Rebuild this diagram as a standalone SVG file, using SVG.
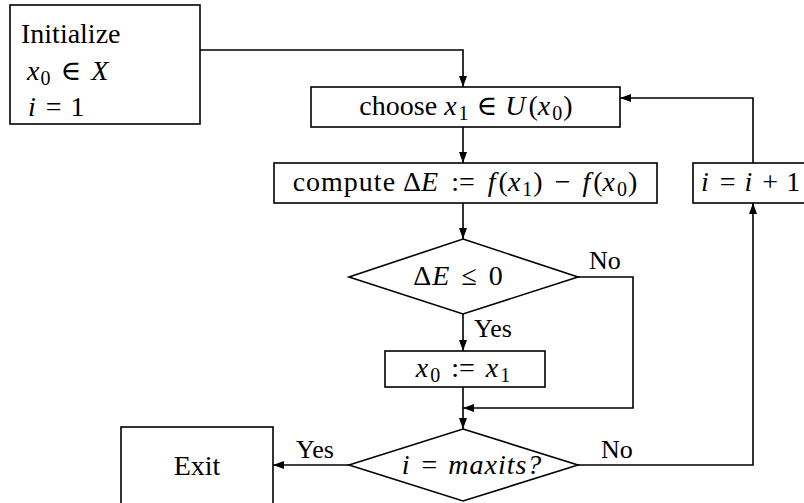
<svg xmlns="http://www.w3.org/2000/svg" width="804" height="503" viewBox="0 0 804 503">
<style>
.box{fill:#fff;stroke:#000;stroke-width:1.6}
.ln{fill:none;stroke:#000;stroke-width:1.6}
text{font-family:"Liberation Serif","DejaVu Serif",serif;font-size:28px;fill:#000}
.lbl{font-size:26px}
.m{font-style:italic}
.s{font-size:20px}
</style>
<defs>
<marker id="ah" markerUnits="userSpaceOnUse" markerWidth="12" markerHeight="10" refX="11" refY="4" orient="auto">
<path d="M0,0 L11,4 L0,8 Z" fill="#000"/>
</marker>
</defs>
<rect width="804" height="503" fill="#fff"/>
<g id="connectors">
<path class="ln" d="M200,50 H463 V87" marker-end="url(#ah)"/>
<path class="ln" d="M463,127 V163" marker-end="url(#ah)"/>
<path class="ln" d="M463,203 V239" marker-end="url(#ah)"/>
<path class="ln" d="M463,314 V351" marker-end="url(#ah)"/>
<path class="ln" d="M463,387 V429" marker-end="url(#ah)"/>
<path class="ln" d="M578,277 H633 V408 H463" marker-end="url(#ah)"/>
<path class="ln" d="M349,465 H273" marker-end="url(#ah)"/>
<path class="ln" d="M578,465 H753 V203" marker-end="url(#ah)"/>
<path class="ln" d="M753,163 V98 H620" marker-end="url(#ah)"/>
<text class="lbl" x="589" y="269">No</text>
<text class="lbl" x="474" y="337">Yes</text>
<text class="lbl" x="296" y="458">Yes</text>
<text class="lbl" x="601" y="458">No</text>
</g>
<g id="init">
<rect class="box" x="10" y="5" width="190" height="119"/>
<text x="21" y="43">Initialize</text>
<text x="27" y="80"><tspan class="m">x</tspan><tspan class="s" dy="5" dx="1">0</tspan><tspan dy="-5" dx="10">∈</tspan><tspan class="m" dx="10">X</tspan></text>
<text x="28" y="116"><tspan class="m">i</tspan><tspan dx="10">=</tspan><tspan dx="9">1</tspan></text>
</g>
<g id="choose">
<rect class="box" x="311" y="87" width="309" height="40"/>
<text x="466" y="115" text-anchor="middle">choose <tspan class="m">x</tspan><tspan class="s" dy="5" dx="2">1</tspan><tspan dy="-5" dx="8">∈</tspan><tspan class="m" dx="8">U</tspan><tspan dx="3">(</tspan><tspan class="m">x</tspan><tspan class="s" dy="5" dx="2">0</tspan><tspan dy="-5" dx="1">)</tspan></text>
</g>
<g id="compute">
<rect class="box" x="274" y="163" width="383" height="40"/>
<text x="465" y="191" text-anchor="middle"><tspan letter-spacing="1">compute</tspan><tspan dx="7">Δ</tspan><tspan class="m">E</tspan><tspan dx="13">:=</tspan><tspan class="m" dx="13">f</tspan><tspan dx="3">(</tspan><tspan class="m">x</tspan><tspan class="s" dy="5" dx="2">1</tspan><tspan dy="-5" dx="1">)</tspan><tspan dx="12">−</tspan><tspan class="m" dx="12">f</tspan><tspan dx="3">(</tspan><tspan class="m">x</tspan><tspan class="s" dy="5" dx="2">0</tspan><tspan dy="-5" dx="1">)</tspan></text>
</g>
<g id="incr">
<rect class="box" x="693" y="163" width="115" height="40"/>
<text x="701" y="191"><tspan class="m">i</tspan><tspan dx="11">=</tspan><tspan class="m" dx="9">i</tspan><tspan dx="10">+</tspan><tspan dx="8">1</tspan></text>
</g>
<g id="test1">
<polygon class="box" points="463,239 578,277 463,314 349,277"/>
<text x="458" y="285" text-anchor="middle">Δ<tspan class="m" dx="1">E</tspan><tspan dx="12">≤</tspan><tspan dx="12">0</tspan></text>
</g>
<g id="accept">
<rect class="box" x="385" y="351" width="160" height="36"/>
<text x="463" y="377" text-anchor="middle"><tspan class="m">x</tspan><tspan class="s" dy="5" dx="2">0</tspan><tspan dy="-5" dx="11">:=</tspan><tspan class="m" dx="11">x</tspan><tspan class="s" dy="5" dx="2">1</tspan></text>
</g>
<g id="test2">
<polygon class="box" points="463,429 578,465 463,501 349,465"/>
<text x="472" y="474" text-anchor="middle"><tspan class="m">i</tspan><tspan dx="12">=</tspan><tspan class="m" dx="11" letter-spacing="1">maxits?</tspan></text>
</g>
<g id="exit">
<rect class="box" x="121" y="427" width="152" height="80"/>
<text x="197" y="475" text-anchor="middle">Exit</text>
</g>
</svg>
